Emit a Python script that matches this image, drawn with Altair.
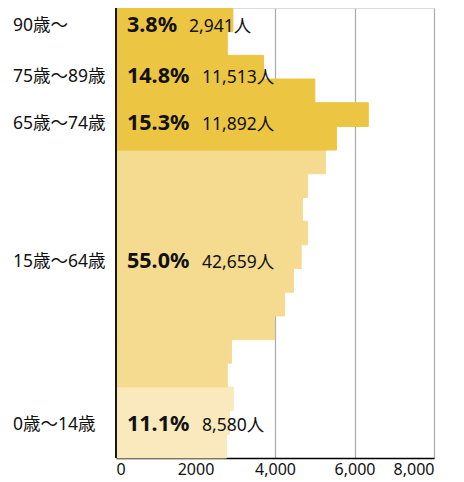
import altair as alt
import pandas as pd

# 5-year age bands, bottom (0-4) to top (90+)
ages = ["0-4", "5-9", "10-14", "15-19", "20-24", "25-29", "30-34", "35-39",
        "40-44", "45-49", "50-54", "55-59", "60-64", "65-69", "70-74",
        "75-79", "80-84", "85-89", "90+"]
population = [2780, 2850, 2950, 2800, 2905, 3990, 4240, 4465, 4659, 4820,
              4690, 4820, 5270, 5545, 6347, 5003, 3710, 2800, 2941]
groups = ["young"] * 3 + ["working"] * 10 + ["old1"] * 2 + ["old2"] * 3 + ["old3"]

group_names = ["0歳〜14歳", "15歳〜64歳", "65歳〜74歳", "75歳〜89歳", "90歳〜"]
group_pct = ["11.1%", "55.0%", "15.3%", "14.8%", "3.8%"]
group_count = ["8,580人", "42,659人", "11,892人", "11,513人", "2,941人"]
group_label_pos = [1.39, 8.26, 14.1, 16.1, 18.24]  # label anchors, in band units

color_domain = ["young", "working", "old1", "old2", "old3"]
color_range = ["#F9E9BC", "#F5DB90", "#ECC543", "#ECC543", "#ECC543"]

tick_values = [0, 2000, 4000, 6000, 8000]

W, H = 318, 450
FONT = "Noto Sans, Noto Sans CJK JP"

bars_df = pd.DataFrame({
    "age": ages,
    "pop": population,
    "grp": groups,
    "i": list(range(len(ages))),
})
bars_df["i2"] = bars_df["i"] + 1

lab_df = pd.DataFrame({
    "name": group_names,
    "pct": group_pct,
    "cnt": group_count,
    "ly": group_label_pos,
})

yscale = alt.Scale(domain=[0, len(ages)], nice=False, zero=False)
xscale = alt.Scale(domain=[0, 8000], nice=False)
cscale = alt.Scale(domain=color_domain, range=color_range)

bars = alt.Chart(bars_df).mark_bar(opacity=1, strokeWidth=1, strokeOpacity=1).encode(
    x=alt.X("pop:Q", scale=xscale,
            axis=alt.Axis(values=tick_values, title=None, grid=True,
                          gridColor="#AAAAAA", gridWidth=1.2,
                          domainColor="#000000", domainWidth=1.5,
                          ticks=False, labelPadding=3,
                          labelFont=FONT, labelFontSize=16, labelColor="#111111",
                          labelExpr="datum.value == 2000 ? '2000' : format(datum.value, ',')")),
    x2=alt.value(0),
    y=alt.Y("i:Q", scale=yscale, axis=None),
    y2="i2:Q",
    color=alt.Color("grp:N", scale=cscale, legend=None),
    stroke=alt.Stroke("grp:N", scale=cscale, legend=None),
)

yaxis = alt.Chart(bars_df).mark_rule(color="#000000", strokeWidth=1.8).encode(
    x=alt.value(0), y=alt.value(0), y2=alt.value(H)
).transform_filter("datum.i == 0")

pct_text = alt.Chart(lab_df).mark_text(
    align="left", baseline="middle", font=FONT, fontSize=21.5, fontWeight="bold", color="#111111"
).encode(
    x=alt.value(11),
    y=alt.Y("ly:Q", scale=yscale),
    text="pct:N",
)

cnt_text = alt.Chart(lab_df).transform_calculate(
    cx="11 + 13 * length(datum.pct) + 10"
).mark_text(
    align="left", baseline="middle", font=FONT, fontSize=17.5, color="#111111", dy=1
).encode(
    x=alt.X("cx:Q", scale=None),
    y=alt.Y("ly:Q", scale=yscale),
    text="cnt:N",
)

name_text = alt.Chart(lab_df).mark_text(
    align="left", baseline="middle", font=FONT, fontSize=17.5, color="#111111"
).encode(
    x=alt.value(-103),
    y=alt.Y("ly:Q", scale=yscale),
    text="name:N",
)

chart = alt.layer(bars, yaxis, pct_text, cnt_text, name_text).properties(
    width=W, height=H,
    autosize=alt.AutoSizeParams(type="none"),
    padding={"left": 108, "top": 0, "right": 22, "bottom": 24},
).configure_view(stroke=None).configure(font=FONT)

chart.save("out.html", embed_options={"renderer": "svg", "actions": False})
